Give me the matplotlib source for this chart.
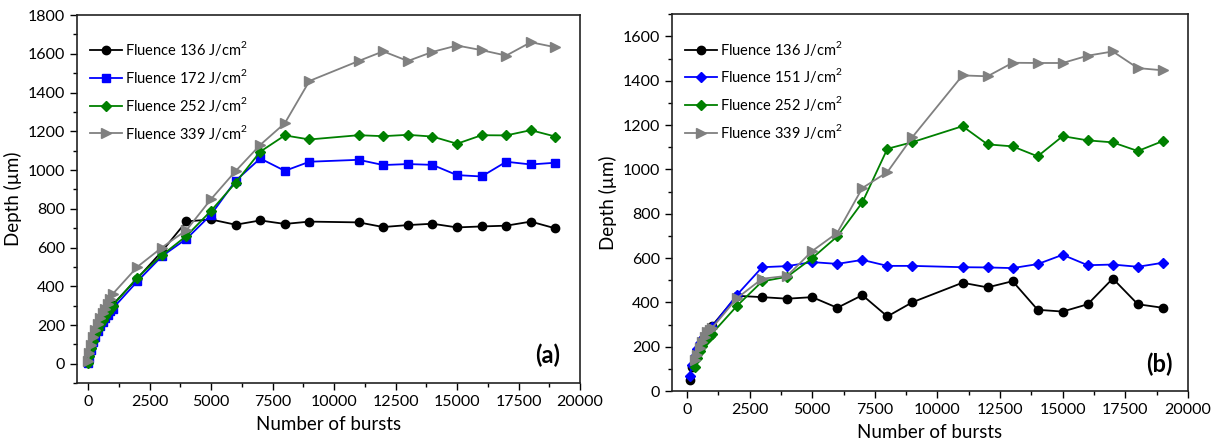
import matplotlib
matplotlib.use("Agg")
import matplotlib.pyplot as plt
from matplotlib.ticker import MultipleLocator

plt.rcParams['font.family'] = ['Lato', 'DejaVu Sans']
plt.rcParams['mathtext.fontset'] = 'custom'
plt.rcParams['mathtext.rm'] = 'Lato'

# ---------------- Panel (a) data ----------------
xa = [10, 50, 100, 200, 300, 400, 500, 600, 700, 800, 900, 1000,
      2000, 3000, 4000, 5000, 6000, 7000, 8000, 9000,
      11000, 12000, 13000, 14000, 15000, 16000, 17000, 18000, 19000]
a_136 = [10, 40, 80, 130, 160, 190, 215, 235, 255, 275, 290, 305,
         440, 580, 735, 745, 718, 740, 722, 734,
         730, 706, 716, 723, 704, 709, 713, 734, 699]
a_172 = [5, 30, 70, 110, 140, 170, 195, 215, 235, 250, 270, 285,
         425, 555, 645, 770, 945, 1060, 996, 1043,
         1053, 1026, 1031, 1027, 974, 967, 1043, 1029, 1038]
a_252 = [5, 40, 80, 120, 155, 180, 205, 225, 245, 265, 285, 300,
         445, 560, 660, 790, 935, 1095, 1179, 1158,
         1180, 1175, 1182, 1173, 1136, 1180, 1179, 1206, 1173]
a_339 = [15, 55, 95, 140, 175, 205, 235, 260, 285, 310, 335, 360,
         500, 600, 690, 850, 995, 1130, 1242, 1460,
         1563, 1613, 1563, 1610, 1643, 1619, 1591, 1660, 1634]
labels_a = ['Fluence 136 J/cm$^2$', 'Fluence 172 J/cm$^2$',
            'Fluence 252 J/cm$^2$', 'Fluence 339 J/cm$^2$']

# ---------------- Panel (b) data ----------------
xb = [100, 200, 300, 400, 500, 600, 700, 800, 900, 1000,
      2000, 3000, 4000, 5000, 6000, 7000, 8000, 9000,
      11000, 12000, 13000, 14000, 15000, 16000, 17000, 18000, 19000]
b_136 = [50, 110, 150, 180, 205, 230, 255, 270, 285, 295,
         430, 424, 417, 424, 376, 433, 337, 401,
         489, 468, 496, 367, 359, 392, 508, 392, 376]
b_151 = [70, 120, 160, 190, 215, 235, 250, 265, 280, 290,
         435, 559, 564, 582, 574, 592, 565, 565,
         559, 558, 555, 573, 615, 568, 571, 561, 579]
xb_252 = [300, 400, 500, 600, 700, 800, 900, 1000,
          2000, 3000, 4000, 5000, 6000, 7000, 8000, 9000,
          11000, 12000, 13000, 14000, 15000, 16000, 17000, 18000, 19000]
b_252 = [110, 150, 180, 205, 225, 240, 250, 260,
         385, 495, 516, 600, 698, 851, 1093, 1123,
         1195, 1113, 1104, 1059, 1150, 1131, 1122, 1083, 1128]
xb_339 = [300, 400, 500, 600, 700, 800, 900, 1000,
          2000, 3000, 4000, 5000, 6000, 7000, 8000, 9000,
          11000, 12000, 13000, 14000, 15000, 16000, 17000, 18000, 19000]
b_339 = [140, 165, 195, 220, 245, 265, 275, 285,
         420, 507, 520, 632, 714, 916, 988, 1146,
         1424, 1420, 1481, 1480, 1480, 1513, 1532, 1457, 1447]
labels_b = ['Fluence 136 J/cm$^2$', 'Fluence 151 J/cm$^2$',
            'Fluence 252 J/cm$^2$', 'Fluence 339 J/cm$^2$']

fig = plt.figure(figsize=(12.18, 4.44), dpi=100)
axa = fig.add_axes([0.0632, 0.137, 0.4130, 0.829])
axb = fig.add_axes([0.5517, 0.119, 0.4236, 0.849])

lw = 1.3
ms = 6.0

def style(ax):
    for s in ax.spines.values():
        s.set_linewidth(1.2)
        s.set_color('#222222')
    ax.tick_params(axis='both', which='major', direction='out', length=5,
                   width=1.0, labelsize=11.5, top=False, right=False)
    ax.tick_params(axis='both', which='minor', direction='out', length=3,
                   width=1.0, top=False, right=False)
    ax.xaxis.set_major_locator(MultipleLocator(2500))
    ax.xaxis.set_minor_locator(MultipleLocator(1250))
    ax.yaxis.set_major_locator(MultipleLocator(200))
    ax.yaxis.set_minor_locator(MultipleLocator(100))
    ax.set_xlabel('Number of bursts', fontsize=13.5, labelpad=5)
    ax.set_ylabel('Depth (µm)', fontsize=13.5)

# Panel (a)
axa.plot(xa, a_136, '-o', color='black', lw=lw, ms=ms, label=labels_a[0])
axa.plot(xa, a_172, '-s', color='#0000FF', lw=lw, ms=ms, label=labels_a[1])
axa.plot(xa, a_252, '-D', color='#008000', lw=lw, ms=ms - 0.5, label=labels_a[2])
axa.plot(xa, a_339, '->', color='#808080', lw=lw, ms=ms + 1, label=labels_a[3])
axa.set_xlim(-450, 20000)
axa.set_ylim(-100, 1800)
style(axa)
axa.legend(loc='upper left', frameon=False, fontsize=10.5, handlelength=2.2,
           handletextpad=0.2, labelspacing=0.6, bbox_to_anchor=(0.0, 0.97))
axa.text(0.96, 0.045, '(a)', transform=axa.transAxes, fontsize=17,
         fontweight='bold', ha='right', va='bottom')

# Panel (b)
axb.plot(xb, b_136, '-o', color='black', lw=lw, ms=ms, label=labels_b[0])
axb.plot(xb, b_151, '-D', color='#0000FF', lw=lw, ms=ms - 0.5, label=labels_b[1])
axb.plot(xb_252, b_252, '-D', color='#008000', lw=lw, ms=ms - 0.5, label=labels_b[2])
axb.plot(xb_339, b_339, '->', color='#808080', lw=lw, ms=ms + 1, label=labels_b[3])
axb.set_xlim(-600, 20000)
axb.set_ylim(0, 1700)
style(axb)
axb.legend(loc='upper left', frameon=False, fontsize=10.5, handlelength=2.2,
           handletextpad=0.2, labelspacing=0.6, bbox_to_anchor=(0.0, 0.97))
axb.text(0.97, 0.04, '(b)', transform=axb.transAxes, fontsize=17,
         fontweight='bold', ha='right', va='bottom')

fig.savefig('out.png', dpi=100)
